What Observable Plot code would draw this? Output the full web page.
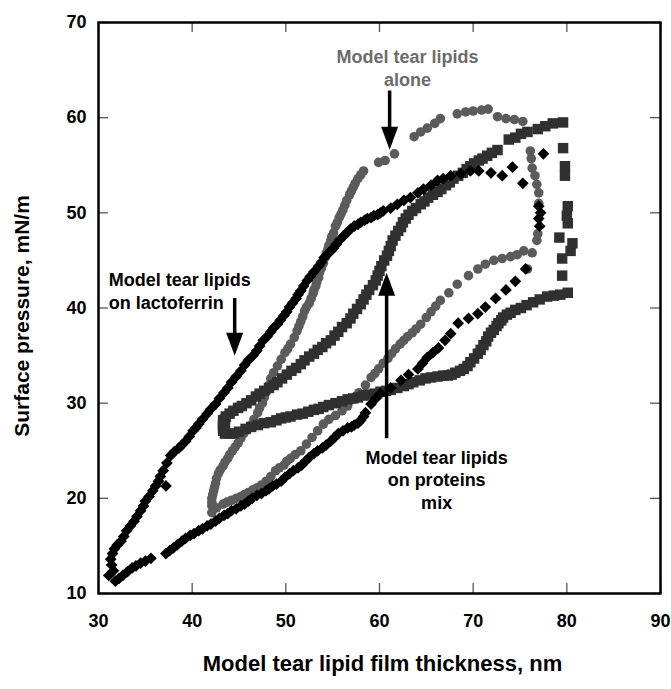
<!DOCTYPE html>
<html>
<head>
<meta charset="utf-8">
<script src="https://cdn.jsdelivr.net/npm/d3@7"></script>
<script src="https://cdn.jsdelivr.net/npm/@observablehq/plot@0.6"></script>
<style>
  html, body { margin: 0; padding: 0; background: #fff; }
  svg { display: block; }
</style>
</head>
<body>
<div id="chart"></div>
<script>
// Model tear lipids alone (grey circles): film thickness (nm) and surface pressure (mN/m)
const aloneThickness = [
  42.1, 42.6, 43.3, 43.7, 44.2, 44.7, 45.2, 45.6, 46.0, 46.5, 46.9, 47.4, 47.9, 48.4, 48.9, 49.3,
  49.8, 50.1, 50.5, 51.0, 51.6, 52.2, 52.8, 53.4, 54.0, 54.6, 55.3, 56.0, 56.6, 57.2, 57.8, 58.5,
  59.1, 59.5, 59.9, 60.4, 60.9, 61.3, 61.7, 62.2, 62.6, 63.0, 63.5, 63.9, 64.4, 65.0, 65.5, 66.0,
  66.5, 67.4, 68.3, 69.5, 70.5, 71.3, 72.2, 73.1, 74.0, 74.7, 75.4, 76.3, 75.8,
  76.8, 76.9, 77.0, 77.0, 76.8, 76.6, 76.3, 76.2, 76.1,
  75.3, 74.4, 73.5, 72.6, 71.6, 70.9, 70.0, 69.2, 68.3, 66.5, 65.9, 65.1, 64.4, 63.7, 61.6, 60.6, 59.9,
  58.3, 58.0, 57.7, 57.4, 57.2, 57.0, 56.8, 56.5, 56.3, 56.1, 55.9, 55.7, 55.5, 55.3, 55.1, 54.9,
  54.8, 54.6, 54.5, 54.3, 54.2, 54.0, 53.8, 53.6, 53.5, 53.3, 53.2, 53.0, 52.9, 52.7, 52.5, 52.2,
  52.0, 51.8, 51.6, 51.4, 51.2, 50.9, 50.5, 50.2, 49.9, 49.5, 49.1, 48.7, 48.4, 48.2, 48.0, 47.7,
  47.5, 47.2, 47.0, 46.6, 46.3, 45.9, 45.5, 45.2, 44.9, 44.6, 44.3, 44.0, 43.8, 43.5, 43.3, 43.0,
  42.8, 42.6, 42.5, 42.4, 42.3, 42.2, 42.1, 42.1, 42.1
];
const alonePressure = [
  18.5, 19.0, 19.4, 19.6, 19.8, 20.0, 20.2, 20.4, 20.6, 20.9, 21.1, 21.4, 21.8, 22.3, 22.9, 23.2,
  23.5, 23.9, 24.2, 24.6, 25.0, 25.7, 26.4, 27.1, 27.8, 28.3, 28.7, 29.2, 29.7, 30.4, 31.1, 31.9,
  32.7, 33.1, 33.6, 34.2, 34.7, 35.2, 35.7, 36.2, 36.6, 37.0, 37.4, 37.8, 38.3, 39.0, 39.6, 40.2,
  40.8, 41.6, 42.5, 43.4, 44.1, 44.6, 45.0, 45.2, 45.4, 45.6, 46.0, 45.8, 44.1,
  47.1, 47.8, 51.0, 52.1, 53.0, 53.9, 54.7, 55.7, 56.5,
  59.6, 59.8, 59.9, 60.1, 60.9, 60.8, 60.7, 60.6, 60.4, 59.9, 59.4, 58.9, 58.5, 58.0, 56.2, 55.5, 55.3,
  54.4, 54.0, 53.6, 53.1, 52.7, 52.3, 51.9, 51.3, 50.8, 50.3, 49.9, 49.5, 49.0, 48.6, 47.9, 47.5,
  47.1, 46.6, 46.2, 45.7, 45.3, 44.7, 44.2, 43.7, 43.2, 42.7, 42.3, 41.9, 41.5, 41.0, 40.5, 40.1,
  39.7, 39.1, 38.6, 38.1, 37.6, 36.9, 36.2, 35.7, 35.3, 34.6, 33.9, 33.2, 32.6, 31.9, 31.3, 30.6,
  30.0, 29.5, 29.0, 28.3, 27.7, 27.2, 26.8, 26.3, 25.8, 25.4, 25.0, 24.6, 24.2, 23.8, 23.4, 23.0,
  22.6, 22.1, 21.6, 21.2, 20.8, 20.4, 20.0, 19.6, 19.2
];

// Model tear lipids on lactoferrin (black diamonds)
const lactoThickness = [
  31.6, 31.4, 31.3, 31.5, 31.7, 32.0, 32.4, 32.7, 33.0, 33.4, 33.8, 34.1, 34.5, 34.8, 35.0, 35.4,
  35.8, 36.1, 36.4, 37.2, 36.6, 36.9, 37.3, 37.7, 38.1, 38.6, 38.9, 39.3, 39.7, 40.1, 40.4, 40.7,
  41.1, 41.6, 42.0, 42.5, 42.9, 43.4, 43.8, 44.2, 44.7, 45.2, 45.6, 46.0, 46.5, 46.9, 47.2, 47.6,
  48.0, 48.4, 48.7, 49.1, 49.4, 49.8, 50.1, 50.4, 50.7, 51.1, 51.3, 51.6, 51.9, 52.3, 52.6, 53.0,
  53.5, 53.8, 54.1, 54.5, 54.8, 55.1, 55.4, 55.8, 56.2, 56.5, 56.9, 57.3, 57.7, 58.0, 58.4, 58.7,
  59.1, 59.4, 59.8, 60.1, 60.4, 61.2, 61.9, 62.6, 63.3, 64.1, 64.7, 65.5, 66.2, 66.8, 67.6, 68.7,
  69.7, 70.6, 71.9, 73.1, 74.2, 75.3, 77.5,
  77.0, 77.2, 77.0, 77.1,
  75.6, 74.5, 73.5, 72.4, 71.3, 70.5, 69.5, 68.4, 67.6, 67.0, 66.3, 65.7, 65.1, 64.6, 64.1, 63.1,
  62.3, 61.2, 60.1, 59.6, 59.1,
  58.5, 58.3, 58.0, 57.7, 57.3, 57.0, 56.6, 56.1, 55.6, 55.2, 54.8, 54.3, 53.9, 53.4, 53.0, 52.5,
  52.1, 51.7, 51.3, 50.8, 50.4, 49.9, 49.5, 49.0, 48.6, 48.2, 47.9, 47.4, 46.9, 46.4, 46.0, 45.6,
  45.2, 44.7, 44.2, 43.8, 43.4, 42.9, 42.5, 42.0, 41.6, 41.1, 40.7, 40.2, 39.8, 39.3, 38.9, 38.4,
  38.0, 37.6, 37.2,
  35.6, 35.0, 34.5, 34.0, 33.6, 33.1, 32.6, 32.2, 31.8, 31.1
];
const lactoPressure = [
  12.4, 13.0, 13.6, 14.2, 14.7, 15.1, 15.5, 16.0, 16.6, 17.1, 17.6, 18.1, 18.7, 19.2, 19.7, 20.2,
  20.8, 21.3, 21.8, 21.3, 22.3, 22.9, 23.7, 24.5, 24.9, 25.3, 25.6, 26.0, 26.5, 27.1, 27.4, 27.8,
  28.3, 28.9, 29.4, 29.9, 30.5, 31.1, 31.6, 32.2, 32.8, 33.4, 34.0, 34.5, 35.0, 35.5, 36.0, 36.6,
  37.0, 37.5, 37.9, 38.3, 38.7, 39.2, 39.6, 40.1, 40.5, 41.0, 41.4, 41.8, 42.3, 42.9, 43.3, 43.8,
  44.4, 44.8, 45.3, 45.7, 46.0, 46.3, 46.7, 47.2, 47.6, 47.9, 48.3, 48.6, 48.8, 49.0, 49.2, 49.4,
  49.5, 49.7, 49.8, 50.0, 50.2, 50.5, 50.9, 51.3, 51.6, 52.1, 52.5, 52.9, 53.4, 53.6, 53.9, 54.1,
  54.4, 54.4, 54.2, 53.9, 54.8, 53.1, 56.2,
  50.7, 50.0, 49.4, 48.6,
  44.1, 42.8, 41.9, 41.0, 40.1, 39.4, 38.9, 38.4, 37.3, 36.6, 35.8, 35.3, 34.8, 34.2, 33.6, 33.0,
  32.4, 31.6, 31.0, 30.5, 29.9,
  29.0, 28.6, 28.2, 27.9, 27.7, 27.5, 27.4, 27.1, 26.8, 26.4, 26.0, 25.6, 25.3, 25.0, 24.7, 24.3,
  23.9, 23.5, 23.2, 22.9, 22.6, 22.2, 21.8, 21.5, 21.3, 21.0, 20.8, 20.5, 20.3, 20.0, 19.7, 19.4,
  19.2, 18.9, 18.7, 18.4, 18.2, 17.9, 17.6, 17.3, 17.1, 16.8, 16.6, 16.3, 16.1, 15.8, 15.5, 15.1,
  14.8, 14.5, 14.2,
  13.7, 13.4, 13.2, 12.9, 12.7, 12.3, 11.9, 11.6, 11.3, 11.9
];

// Model tear lipids on proteins mix (dark squares)
const mixThickness = [
  43.5, 43.5, 43.5, 44.0, 44.4, 45.0, 45.7, 46.3, 47.0, 47.7, 48.4, 49.0, 49.5, 50.0, 50.5, 51.2,
  51.8, 52.4, 53.0, 53.5, 54.0, 54.6, 55.3, 56.0, 56.6, 57.2, 57.7, 58.3, 58.8, 59.5, 60.1, 60.7,
  61.2, 61.9, 62.6, 63.1, 63.6, 64.3, 64.9, 65.5, 66.2, 66.8, 67.3, 67.7, 68.1, 68.6, 69.0, 69.4,
  69.7, 70.1, 70.5, 70.8, 71.1, 71.4, 71.6, 71.9, 72.2, 72.5, 72.7, 73.0, 73.2, 73.6, 74.0, 74.5,
  75.1, 75.7, 76.4, 77.1, 77.9, 78.6, 79.3, 80.1,
  79.5, 79.5, 80.4, 80.6, 79.2, 80.1, 80.0, 80.1, 79.8, 79.8, 79.6,
  79.6, 78.5, 77.7, 76.9, 75.8, 75.1, 74.5, 73.8,
  72.6, 72.0, 71.5, 71.0, 70.6, 70.1, 69.7, 69.3, 68.9, 68.4, 67.9, 67.5, 67.1, 66.6, 66.2, 65.7,
  65.2, 64.8, 64.4, 63.9, 63.5, 63.1, 62.8, 62.5, 62.3, 62.0, 61.7, 61.4, 61.2, 61.0, 60.8, 60.5,
  60.2, 60.0, 59.8, 59.6, 59.3, 58.9, 58.6, 58.3, 58.0, 57.6, 57.2, 56.9, 56.5, 56.0, 55.6, 55.2,
  54.8, 54.3, 53.9, 53.4, 53.0, 52.5, 52.0, 51.6, 51.1, 50.6, 50.1, 49.6, 49.1, 48.7, 48.2, 47.7,
  47.2, 46.8, 46.3, 45.8, 45.3, 44.9, 44.4, 44.0, 43.6, 43.3, 43.3, 43.3, 43.3
];
const mixPressure = [
  26.8, 27.6, 28.3, 26.8, 26.8, 27.0, 27.3, 27.5, 27.7, 27.9, 28.0, 28.2, 28.4, 28.5, 28.6, 28.8,
  28.9, 29.1, 29.3, 29.4, 29.6, 29.8, 30.0, 30.2, 30.4, 30.5, 30.6, 30.8, 30.9, 31.0, 31.2, 31.3,
  31.4, 31.6, 31.8, 32.0, 32.2, 32.4, 32.6, 32.7, 32.8, 32.9, 32.9, 33.0, 33.2, 33.4, 33.6, 33.9,
  34.3, 34.7, 35.2, 35.6, 36.1, 36.5, 37.0, 37.4, 37.7, 38.1, 38.4, 38.7, 39.0, 39.3, 39.5, 39.8,
  40.0, 40.3, 40.6, 40.9, 41.2, 41.3, 41.4, 41.6,
  43.4, 45.2, 46.0, 46.8, 47.4, 48.9, 49.7, 50.7, 53.9, 54.9, 56.8,
  59.5, 59.4, 59.1, 58.8, 58.5, 58.3, 57.9, 57.7,
  56.6, 56.3, 56.0, 55.7, 55.5, 55.2, 54.9, 54.6, 54.2, 53.9, 53.6, 53.2, 52.9, 52.5, 52.2, 51.9,
  51.6, 51.2, 50.9, 50.5, 50.2, 49.8, 49.4, 49.0, 48.5, 48.1, 47.6, 47.1, 46.5, 46.0, 45.5, 45.0,
  44.4, 43.9, 43.4, 42.9, 42.4, 41.9, 41.4, 40.9, 40.4, 39.9, 39.4, 38.9, 38.4, 38.0, 37.5, 37.1,
  36.6, 36.3, 35.9, 35.6, 35.2, 34.9, 34.5, 34.1, 33.7, 33.4, 33.0, 32.6, 32.2, 31.9, 31.6, 31.3,
  31.0, 30.7, 30.3, 30.0, 29.7, 29.5, 29.2, 28.9, 28.6, 28.2, 27.8, 27.4, 27.1
];

// Axis ticks
const xTicks = [30, 40, 50, 60, 70, 80, 90];
const yTicks = [10, 20, 30, 40, 50, 60, 70];

// Annotation labels and their arrows (data units)
const labelText = ["Model tear lipids\nalone", "Model tear lipids\non lactoferrin", "Model tear lipids\non proteins\nmix"];
const labelX = [63.0, 31.1, 66.1];
const labelY = [63.35, 39.9, 18.9];
const arrowX = [61.08, 44.54, 60.76];
const arrowTail = [62.8, 41.0, 26.26];
const arrowNeck = [58.8, 37.2, 41.5];
const arrowTip = [56.62, 34.98, 43.7];

const zip = (xs, ys) => xs.map((x, i) => ({x, y: ys[i]}));
const alone = zip(aloneThickness, alonePressure);
const lacto = zip(lactoThickness, lactoPressure);
const mix = zip(mixThickness, mixPressure);
const labels = labelText.map((text, i) => ({text, x: labelX[i], y: labelY[i]}));
const arrows = arrowX.map((x, i) => ({x, tail: arrowTail[i], neck: arrowNeck[i], tip: arrowTip[i]}));

// Filled triangular arrowheads, tip at the symbol origin
const headDown = {draw(ctx) { ctx.moveTo(0, 0); ctx.lineTo(-8.5, -23); ctx.lineTo(8.5, -23); ctx.closePath(); }};
const headUp = {draw(ctx) { ctx.moveTo(0, 0); ctx.lineTo(-8.5, 23); ctx.lineTo(8.5, 23); ctx.closePath(); }};

const W = 671, H = 689;
const mT = 22, mR = 11, mB = 96, mL = 98;
const innerW = W - mL - mR, innerH = H - mT - mB;
const tickLen = 10;

const chart = Plot.plot({
  width: W,
  height: H,
  marginTop: mT,
  marginRight: mR,
  marginBottom: mB,
  marginLeft: mL,
  x: {domain: [30, 90], label: null},
  y: {domain: [10, 70], label: null},
  style: {
    fontFamily: "'Liberation Sans', Arial, Helvetica, sans-serif",
    fontWeight: "bold",
    fontSize: "18px",
    color: "#000",
    background: "#fff"
  },
  marks: [
    Plot.dot(alone, {x: "x", y: "y", r: 4.8, fill: "#5b5b5b", stroke: "none"}),
    Plot.dot(mix, {x: "x", y: "y", symbol: "square", r: 5.9, fill: "#303030", stroke: "none"}),
    Plot.dot(lacto, {x: "x", y: "y", symbol: "diamond2", r: 5.3, fill: "#000", stroke: "none"}),

    // inward ticks on all four sides
    Plot.tickX(xTicks, {x: d => d, insetTop: innerH - tickLen, stroke: "#555", strokeWidth: 1.3}),
    Plot.tickX(xTicks, {x: d => d, insetBottom: innerH - tickLen, stroke: "#555", strokeWidth: 1.3}),
    Plot.tickY(yTicks, {y: d => d, insetRight: innerW - tickLen, stroke: "#555", strokeWidth: 1.3}),
    Plot.tickY(yTicks, {y: d => d, insetLeft: innerW - tickLen, stroke: "#555", strokeWidth: 1.3}),
    Plot.frame({stroke: "#000", strokeWidth: 2.5}),

    Plot.axisX({ticks: xTicks, tickSize: 0, tickPadding: 21, label: null}),
    Plot.axisY({ticks: yTicks, tickSize: 0, tickPadding: 12, label: null}),

    Plot.text(["Model tear lipid film thickness, nm"], {
      text: d => d, frameAnchor: "bottom", textAnchor: "middle", lineAnchor: "middle",
      dx: 3, dy: 70, fontSize: 22
    }),
    Plot.text(["Surface pressure, mN/m"], {
      text: d => d, frameAnchor: "left", textAnchor: "middle", lineAnchor: "middle",
      rotate: -90, dx: -76, dy: 8, fontSize: 21
    }),

    // annotations
    Plot.text(labels.slice(0, 1), {x: "x", y: "y", text: "text", textAnchor: "middle", lineAnchor: "bottom", lineHeight: 1.28, fontSize: 18, fill: "#6b6b6b"}),
    Plot.text(labels.slice(1, 2), {x: "x", y: "y", text: "text", textAnchor: "start", lineAnchor: "bottom", lineHeight: 1.28, fontSize: 18, fill: "#000"}),
    Plot.text(labels.slice(2, 3), {x: "x", y: "y", text: "text", textAnchor: "middle", lineAnchor: "bottom", lineHeight: 1.25, fontSize: 18, fill: "#000"}),
    Plot.ruleX(arrows, {x: "x", y1: "tail", y2: "neck", stroke: "#000", strokeWidth: 3.5}),
    Plot.dot(arrows.filter(a => a.tip < a.tail), {x: "x", y: "tip", symbol: headDown, fill: "#000", stroke: "none"}),
    Plot.dot(arrows.filter(a => a.tip > a.tail), {x: "x", y: "tip", symbol: headUp, fill: "#000", stroke: "none"})
  ]
});

document.getElementById("chart").append(chart);
</script>
</body>
</html>
